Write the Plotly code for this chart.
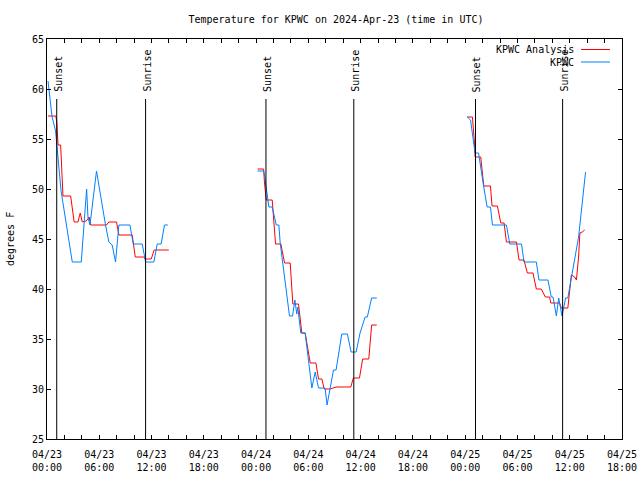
import plotly.graph_objects as go

# ---------------- data ----------------
# KPWC Analysis (red), three daily pieces separated by gaps
analysis_times_1 = ["2024-04-23 00:07", "2024-04-23 01:00", "2024-04-23 01:07", "2024-04-23 01:16",
                    "2024-04-23 01:34", "2024-04-23 01:50", "2024-04-23 02:43", "2024-04-23 03:07",
                    "2024-04-23 03:33", "2024-04-23 03:49", "2024-04-23 04:03", "2024-04-23 04:30",
                    "2024-04-23 04:51", "2024-04-23 05:00", "2024-04-23 06:50", "2024-04-23 07:06",
                    "2024-04-23 07:59", "2024-04-23 08:15", "2024-04-23 09:47", "2024-04-23 10:08",
                    "2024-04-23 11:07", "2024-04-23 11:15", "2024-04-23 11:58", "2024-04-23 12:18",
                    "2024-04-23 13:59"]
analysis_temps_1 = [57.3, 57.3, 56.8, 54.4, 54.4, 49.3, 49.3, 46.7, 46.7, 47.6, 46.7, 46.8, 47.2,
                    46.4, 46.4, 46.7, 46.7, 45.4, 45.4, 43.2, 43.2, 43.0, 43.0, 43.9, 43.9]

analysis_times_2 = ["2024-04-24 00:10", "2024-04-24 00:52", "2024-04-24 00:58", "2024-04-24 01:08",
                    "2024-04-24 01:10", "2024-04-24 01:51", "2024-04-24 02:05", "2024-04-24 02:14",
                    "2024-04-24 02:51", "2024-04-24 03:16", "2024-04-24 03:55", "2024-04-24 04:07",
                    "2024-04-24 04:13", "2024-04-24 04:52", "2024-04-24 05:15", "2024-04-24 05:38",
                    "2024-04-24 06:13", "2024-04-24 06:52", "2024-04-24 07:10", "2024-04-24 07:33",
                    "2024-04-24 07:49", "2024-04-24 08:30", "2024-04-24 09:11", "2024-04-24 10:52",
                    "2024-04-24 11:10", "2024-04-24 11:52", "2024-04-24 12:14", "2024-04-24 12:56",
                    "2024-04-24 13:16", "2024-04-24 13:51"]
analysis_temps_2 = [52.0, 52.0, 50.6, 49.3, 48.9, 48.9, 46.7, 44.5, 44.5, 42.6, 42.6, 39.2, 38.5,
                    38.5, 35.6, 35.6, 32.6, 32.6, 31.0, 31.0, 30.0, 30.0, 30.2, 30.2, 31.1, 31.1,
                    33.0, 33.0, 36.4, 36.4]

analysis_times_3 = ["2024-04-25 00:14", "2024-04-25 00:50", "2024-04-25 01:04", "2024-04-25 01:08",
                    "2024-04-25 01:47", "2024-04-25 02:08", "2024-04-25 02:54", "2024-04-25 03:05",
                    "2024-04-25 03:42", "2024-04-25 04:05", "2024-04-25 04:28", "2024-04-25 04:44",
                    "2024-04-25 05:53", "2024-04-25 06:11", "2024-04-25 06:45", "2024-04-25 07:08",
                    "2024-04-25 07:47", "2024-04-25 08:10", "2024-04-25 08:44", "2024-04-25 09:12",
                    "2024-04-25 09:42", "2024-04-25 09:49", "2024-04-25 10:50", "2024-04-25 11:02",
                    "2024-04-25 11:47", "2024-04-25 11:59", "2024-04-25 12:11", "2024-04-25 12:34",
                    "2024-04-25 12:46", "2024-04-25 13:01", "2024-04-25 13:10", "2024-04-25 13:26",
                    "2024-04-25 13:43"]
analysis_temps_3 = [57.2, 57.2, 54.6, 53.2, 53.2, 50.3, 50.3, 48.3, 48.3, 46.6, 46.6, 44.7, 44.7,
                    42.9, 42.9, 41.6, 41.6, 40.0, 40.0, 39.2, 39.2, 38.6, 38.6, 38.1, 38.1, 39.9,
                    41.4, 41.2, 40.9, 43.2, 45.6, 45.7, 45.9]

# KPWC observations (blue)
obs_times_1 = ["2024-04-23 00:07", "2024-04-23 00:34", "2024-04-23 00:59", "2024-04-23 01:16",
               "2024-04-23 01:37", "2024-04-23 02:54", "2024-04-23 03:56", "2024-04-23 04:33",
               "2024-04-23 04:42", "2024-04-23 04:56", "2024-04-23 05:41", "2024-04-23 06:43",
               "2024-04-23 07:06", "2024-04-23 07:29", "2024-04-23 07:52", "2024-04-23 08:15",
               "2024-04-23 09:31", "2024-04-23 09:54", "2024-04-23 10:56", "2024-04-23 11:19",
               "2024-04-23 12:16", "2024-04-23 12:39", "2024-04-23 13:06", "2024-04-23 13:29",
               "2024-04-23 13:52"]
obs_temps_1 = [60.8, 57.3, 55.8, 53.1, 49.8, 42.7, 42.7, 50.0, 47.2, 46.4, 51.8, 46.4, 44.7, 44.4,
               42.7, 46.4, 46.4, 44.5, 44.5, 42.7, 42.7, 44.5, 44.5, 46.4, 46.4]

obs_times_2 = ["2024-04-24 00:10", "2024-04-24 00:52", "2024-04-24 00:58", "2024-04-24 01:08",
               "2024-04-24 01:28", "2024-04-24 01:51", "2024-04-24 02:19", "2024-04-24 02:37",
               "2024-04-24 02:46", "2024-04-24 03:50", "2024-04-24 04:11", "2024-04-24 04:27",
               "2024-04-24 04:40", "2024-04-24 04:47", "2024-04-24 05:04", "2024-04-24 05:08",
               "2024-04-24 05:38", "2024-04-24 06:08", "2024-04-24 06:24", "2024-04-24 06:47",
               "2024-04-24 07:10", "2024-04-24 07:55", "2024-04-24 08:09", "2024-04-24 08:53",
               "2024-04-24 09:11", "2024-04-24 09:50", "2024-04-24 10:29", "2024-04-24 10:54",
               "2024-04-24 11:29", "2024-04-24 11:56", "2024-04-24 12:31", "2024-04-24 12:46",
               "2024-04-24 13:16", "2024-04-24 13:51"]
obs_temps_2 = [51.8, 51.8, 51.4, 50.2, 48.2, 48.2, 46.4, 46.4, 44.6, 37.3, 37.3, 38.9, 37.5, 38.2,
               36.5, 35.6, 35.6, 31.6, 30.1, 31.7, 30.1, 30.1, 28.4, 31.9, 31.9, 35.5, 35.5, 33.7,
               33.7, 35.6, 37.2, 37.2, 39.1, 39.1]

obs_times_3 = ["2024-04-25 00:14", "2024-04-25 00:37", "2024-04-25 01:08", "2024-04-25 01:32",
               "2024-04-25 02:08", "2024-04-25 02:31", "2024-04-25 02:54", "2024-04-25 03:08",
               "2024-04-25 04:44", "2024-04-25 05:07", "2024-04-25 06:28", "2024-04-25 06:45",
               "2024-04-25 08:10", "2024-04-25 08:28", "2024-04-25 09:30", "2024-04-25 09:53",
               "2024-04-25 10:05", "2024-04-25 10:28", "2024-04-25 10:44", "2024-04-25 11:07",
               "2024-04-25 11:32", "2024-04-25 11:47", "2024-04-25 13:01", "2024-04-25 13:49"]
obs_temps_3 = [57.2, 56.9, 53.6, 53.6, 50.2, 48.2, 48.2, 46.4, 46.4, 44.5, 44.5, 42.7, 42.7, 40.9,
               40.9, 39.2, 39.2, 37.3, 39.1, 37.3, 39.1, 39.1, 45.2, 51.7]

sunset_times = ["2024-04-23 01:07", "2024-04-24 01:08", "2024-04-25 01:11"]
sunrise_times = ["2024-04-23 11:19", "2024-04-24 11:13", "2024-04-25 11:11"]

tick_values = ["2024-04-23 00:00", "2024-04-23 06:00", "2024-04-23 12:00", "2024-04-23 18:00",
               "2024-04-24 00:00", "2024-04-24 06:00", "2024-04-24 12:00", "2024-04-24 18:00",
               "2024-04-25 00:00", "2024-04-25 06:00", "2024-04-25 12:00", "2024-04-25 18:00"]
tick_labels = ["04/23<br>00:00", "04/23<br>06:00", "04/23<br>12:00", "04/23<br>18:00",
               "04/24<br>00:00", "04/24<br>06:00", "04/24<br>12:00", "04/24<br>18:00",
               "04/25<br>00:00", "04/25<br>06:00", "04/25<br>12:00", "04/25<br>18:00"]

title_text = "Temperature for KPWC on 2024-Apr-23 (time in UTC)"
series_names = ["KPWC Analysis", "KPWC"]
series_colors = ["#ff0000", "#0080ff"]


def join(*parts):
    out = []
    for i, p in enumerate(parts):
        if i:
            out.append(None)
        out.extend(p)
    return out


analysis_x = join(analysis_times_1, analysis_times_2, analysis_times_3)
analysis_y = join(analysis_temps_1, analysis_temps_2, analysis_temps_3)
obs_x = join(obs_times_1, obs_times_2, obs_times_3)
obs_y = join(obs_temps_1, obs_temps_2, obs_temps_3)

FONT = "DejaVu Sans Mono"

fig = go.Figure()
fig.add_trace(go.Scatter(x=analysis_x, y=analysis_y, mode="lines", name=series_names[0],
                         line=dict(color=series_colors[0], width=1), connectgaps=False))
fig.add_trace(go.Scatter(x=obs_x, y=obs_y, mode="lines", name=series_names[1],
                         line=dict(color=series_colors[1], width=1), connectgaps=False))

L, R, T, B = 47, 18, 39, 41
PW, PH = 640 - L - R, 480 - T - B


def px_x(px):
    return (px - L) / PW


def px_y(py):
    return (480 - B - py) / PH


# Sunset / sunrise markers
for label, times in (("Sunset", sunset_times), ("Sunrise", sunrise_times)):
    for t in times:
        fig.add_shape(type="line", xref="x", yref="paper", x0=t, x1=t, y0=0, y1=px_y(99),
                      line=dict(color="black", width=1))
        fig.add_annotation(text=label, xref="x", yref="paper", x=t, y=px_y(93),
                           xanchor="center", yanchor="bottom", textangle=-90, showarrow=False,
                           xshift=1, borderpad=0, font=dict(family=FONT, size=10, color="black"))

# Legend drawn gnuplot-style (text then line sample)
for i, (name, color) in enumerate(zip(series_names, series_colors)):
    yy = 49.5 + 12.5 * i
    fig.add_annotation(text=name, xref="paper", yref="paper", x=px_x(575), y=px_y(yy),
                       xanchor="right", yanchor="middle", showarrow=False, borderpad=0,
                       font=dict(family=FONT, size=10, color="black"))
    fig.add_shape(type="line", xref="paper", yref="paper", x0=px_x(581), x1=px_x(610),
                  y0=px_y(yy), y1=px_y(yy), line=dict(color=color, width=1))

# y-axis label
fig.add_annotation(text="degrees F", xref="paper", yref="paper", x=px_x(10), y=0.5,
                   xanchor="center", yanchor="middle", textangle=-90, showarrow=False,
                   font=dict(family=FONT, size=10, color="black"))

fig.update_layout(
    width=640, height=480,
    margin=dict(l=L, r=R, t=T, b=B, pad=0, autoexpand=False),
    paper_bgcolor="white", plot_bgcolor="white",
    showlegend=False,
    font=dict(family=FONT, size=10, color="black"),
    title=dict(text=title_text, x=336 / 640, xref="container", xanchor="center",
               y=1 - 19 / 480, yref="container", yanchor="middle",
               font=dict(family=FONT, size=10, color="black")),
    xaxis=dict(type="date", range=["2024-04-23 00:00", "2024-04-25 18:00"],
               tickmode="array", tickvals=tick_values, ticktext=tick_labels,
               ticks="inside", ticklen=4, tickcolor="black", tickwidth=1,
               ticklabelstandoff=6, automargin=False,
               minor=dict(dtick=2 * 3600 * 1000, ticks="inside", ticklen=4, tickcolor="black",
                          showgrid=False),
               showline=True, linecolor="black", linewidth=1, mirror="allticks",
               showgrid=False, zeroline=False),
    yaxis=dict(range=[25, 65], dtick=5, tick0=25, ticks="inside", ticklen=4,
               tickcolor="black", tickwidth=1, automargin=False,
               showline=True, linecolor="black", linewidth=1, mirror="allticks",
               showgrid=False, zeroline=False),
)

fig.write_html("out.html", config={"displayModeBar": False},
               post_script="document.body.style.margin='0';")
